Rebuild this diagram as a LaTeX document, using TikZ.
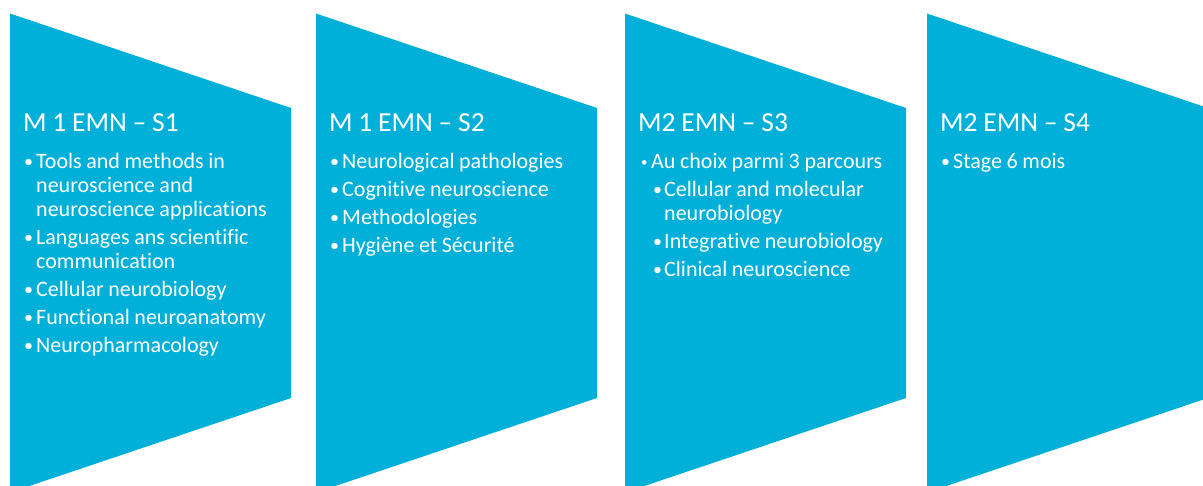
\documentclass[tikz,border=0pt]{standalone}
\usepackage{fontspec}
\setmainfont{Carlito}[Ligatures={NoCommon,NoContextual}]
\usepackage{xcolor}
\usepackage{tikz}
\definecolor{stagecyan}{RGB}{0,176,216}
\newcommand{\tightspace}{\spaceskip=0.21em plus 0.05em minus 0.02em\relax}
\newcommand{\stagetitle}[1]{{\fontsize{27.5}{30}\selectfont\tightspace #1\par}\vspace{9pt}}
\newcommand{\bulmark}{\raisebox{1pt}{\fontsize{18}{18}\selectfont\textbullet}}
\newcommand{\pitem}[1]{\par\tightspace\hangindent=13pt\hangafter=1\noindent\makebox[13pt][l]{\hspace{1pt}\bulmark}#1}
\newcommand{\psmallitem}[1]{\par\tightspace\hangindent=13pt\hangafter=1\noindent\makebox[13pt][l]{\hspace{3pt}\raisebox{1.5pt}{\fontsize{13}{13}\selectfont\textbullet}}#1}
\newcommand{\psubitem}[1]{\par\tightspace\hangindent=26pt\hangafter=1\noindent\makebox[26pt][l]{\hspace{15pt}\bulmark}#1}

\begin{document}
\begin{tikzpicture}[x=1pt,y=-1pt,
  stageshape/.style={fill=stagecyan},
  stagetext/.style={text=white, text width=300pt, inner sep=0pt, anchor=base west, font=\fontsize{22}{24}\selectfont\setlength{\parskip}{4pt}}]
            \useasboundingbox (0,0) rectangle (1203,485);
            \clip (0,0) rectangle (1203,485);

            %Shapes
            \foreach \x in {10,316,625,927}{
                \fill[stageshape] (\x,13.5) -- (\x+281,108) -- (\x+281,398) -- (\x,492.5) -- cycle;
            }

            %Text
            \node[stagetext](text_s1) at (23,131){\stagetitle{M 1 EMN -- S1}
                \pitem{Tools and methods in\newline neuroscience and\newline neuroscience applications}
                \pitem{Languages ans scientific\newline communication}
                \pitem{Cellular neurobiology}
                \pitem{Functional neuroanatomy}
                \pitem{Neuropharmacology}};
            \node[stagetext](text_s2) at (329,131){\stagetitle{M 1 EMN -- S2}
                \pitem{Neurological pathologies}
                \pitem{Cognitive neuroscience}
                \pitem{Methodologies}
                \pitem{Hygiène et Sécurité}};
            \node[stagetext](text_s3) at (638,131){\stagetitle{M2 EMN -- S3}
                \psmallitem{Au choix parmi 3 parcours}
                \psubitem{Cellular and molecular\newline neurobiology}
                \psubitem{Integrative neurobiology}
                \psubitem{Clinical neuroscience}};
            \node[stagetext](text_s4) at (940,131){\stagetitle{M2 EMN -- S4}
                \pitem{Stage 6 mois}};

\end{tikzpicture}
\end{document}
